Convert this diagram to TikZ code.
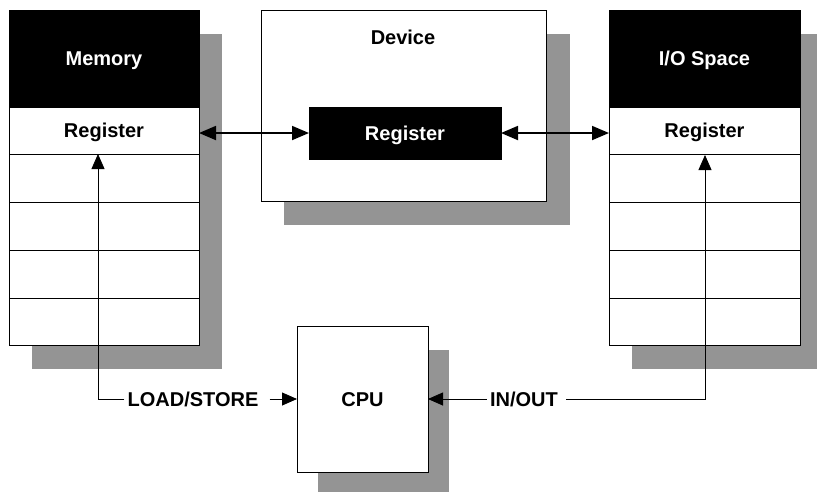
\documentclass[tikz,border=0pt]{standalone}
\usepackage{fontspec}
\setmainfont{Liberation Sans}
\usetikzlibrary{arrows.meta,backgrounds,calc}
\definecolor{shadowc}{gray}{0.58}
\tikzset{
  lbl/.style={font=\fontsize{20}{23}\selectfont\bfseries, inner sep=3pt, text height=14.3pt, text depth=0pt},
  cell/.style={draw=black, line width=0.8pt, fill=white, inner sep=0pt, outer sep=0pt, minimum width=190pt, font=\fontsize{20}{23}\selectfont\bfseries, text height=14.3pt, text depth=0pt},
  headcell/.style={cell, fill=black, text=white},
  shade/.style={fill=shadowc, draw=none},
  dbl/.style={line width=1.8pt, {Triangle[length=17pt,width=14pt]}-{Triangle[length=17pt,width=14pt]}},
  arr/.style={line width=0.8pt, -{Triangle[length=15pt,width=13pt]}},
  ln/.style={line width=0.8pt}
}
\begin{document}
\begin{tikzpicture}[x=1pt,y=-1pt]
\useasboundingbox (0,0) rectangle (817,491);

% Memory column
\node[headcell, minimum height=97pt, anchor=north west] (memhead) at (9,10) {Memory};
\node[cell, minimum height=47pt, anchor=north] (memreg) at (memhead.south) {Register};
\node[cell, minimum height=48pt, anchor=north] (mem1) at (memreg.south) {};
\node[cell, minimum height=48pt, anchor=north] (mem2) at (mem1.south) {};
\node[cell, minimum height=48pt, anchor=north] (mem3) at (mem2.south) {};
\node[cell, minimum height=47pt, anchor=north] (mem4) at (mem3.south) {};

% Device
\node[cell, minimum width=285pt, minimum height=191pt, anchor=north west] (dev) at (261,10) {};
\node[lbl] (devlbl) at (403,37) {Device};
\node[headcell, minimum width=192pt, minimum height=52pt] (devreg) at (405,133) {Register};

% I/O Space column
\node[headcell, minimum width=191pt, minimum height=97pt, anchor=north west] (iohead) at (609,10) {I/O Space};
\node[cell, minimum width=191pt, minimum height=47pt, anchor=north] (ioreg) at (iohead.south) {Register};
\node[cell, minimum width=191pt, minimum height=48pt, anchor=north] (io1) at (ioreg.south) {};
\node[cell, minimum width=191pt, minimum height=48pt, anchor=north] (io2) at (io1.south) {};
\node[cell, minimum width=191pt, minimum height=48pt, anchor=north] (io3) at (io2.south) {};
\node[cell, minimum width=191pt, minimum height=47pt, anchor=north] (io4) at (io3.south) {};

% CPU
\node[cell, minimum width=131pt, minimum height=146pt, anchor=north west] (cpu) at (297,326) {CPU};

% shadows
\begin{scope}[on background layer]
\fill[shade] ($(memhead.north west)+(23,24)$) rectangle ($(mem4.south east)+(23,24)$);
\fill[shade] ($(dev.north west)+(23,24)$) rectangle ($(dev.south east)+(24,24)$);
\fill[shade] ($(iohead.north west)+(23,24)$) rectangle ($(io4.south east)+(23,24)$);
\fill[shade] ($(cpu.north west)+(21,24)$) rectangle ($(cpu.south east)+(21,24)$);
\end{scope}

% double arrows
\draw[dbl] (memreg.east |- devreg.west) -- (devreg.west);
\draw[dbl] (devreg.east) -- (ioreg.west |- devreg.east);

% LOAD/STORE
\node[lbl] (ls) at (193,399) {LOAD/STORE};
\coordinate (mtap) at (98,154);
\draw[arr] (ls.west) -| (mtap);
\draw[arr] ([xshift=8pt]ls.east) -- (cpu.west |- ls.east);

% IN/OUT
\node[lbl] (inout) at (524,399) {IN/OUT};
\coordinate (itap) at (705,155);
\draw[arr] (inout.west) -- (cpu.east |- inout.west);
\draw[arr] ([xshift=5pt]inout.east) -| (itap);
\end{tikzpicture}
\end{document}
